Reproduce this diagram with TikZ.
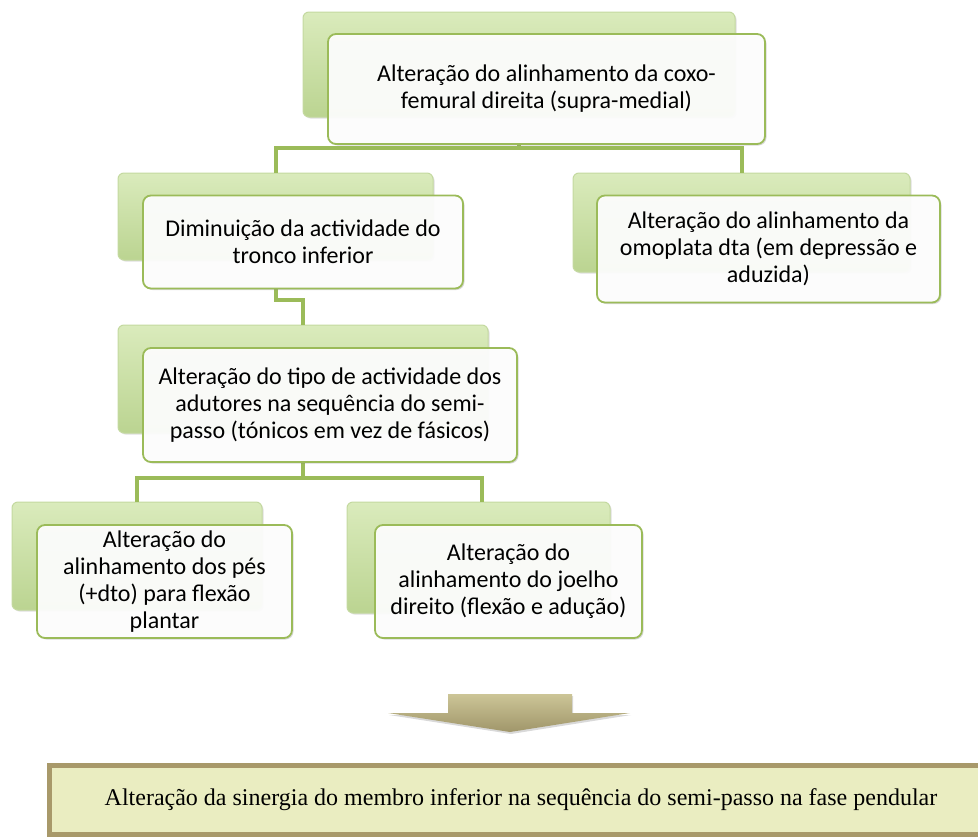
\documentclass[tikz,border=0pt]{standalone}
\usepackage{fontspec}
\setmainfont{Carlito}
\newfontfamily\timesfont{Liberation Serif}
\usetikzlibrary{shadows}

\definecolor{linkgreen}{HTML}{9BBB59}
\definecolor{tabtop}{HTML}{DAEBBC}
\definecolor{tabbottom}{HTML}{BBD491}
\definecolor{tabedge}{HTML}{C4D9A0}
\definecolor{resultfill}{HTML}{EAEDC1}
\definecolor{resultedge}{HTML}{A8996A}
\definecolor{arrowtop}{HTML}{CCC597}
\definecolor{arrowbottom}{HTML}{A0966A}

\tikzset{
  tab/.style={rectangle, rounded corners=6pt, inner sep=0pt, outer sep=0pt,
    top color=tabtop, bottom color=tabbottom, draw=tabedge, line width=1pt,
    drop shadow={shadow xshift=1.5pt, shadow yshift=-1.5pt, opacity=0.25}},
  box/.style={rectangle, rounded corners=8pt, inner sep=0pt, outer sep=0pt,
    fill=white, fill opacity=0.93, text opacity=1, draw=linkgreen, line width=1.8pt,
    align=center, font=\fontsize{24}{27}\selectfont,
    drop shadow={shadow xshift=1.5pt, shadow yshift=-1.5pt, opacity=0.3}},
  link/.style={draw=linkgreen, line width=4pt},
}

\begin{document}
\begin{tikzpicture}[x=1pt, y=-1pt]
  \useasboundingbox (0,0) rectangle (978,838);

  % tabs behind the boxes
  \node[tab, minimum width=432, minimum height=105] (toptab) at (519,64.5) {};
  \node[tab, minimum width=315, minimum height=87] (lefttab) at (275.5,216.5) {};
  \node[tab, minimum width=337, minimum height=99] (righttab) at (741.5,222.5) {};
  \node[tab, minimum width=370, minimum height=108] (midtab) at (303,379) {};
  \node[tab, minimum width=250, minimum height=108] (foottab) at (137,556) {};
  \node[tab, minimum width=263, minimum height=111] (kneetab) at (478.5,557.5) {};

  % connectors
  \draw[link] (toptab |- 0,143) -- ++(0,5) -| (lefttab.north);
  \draw[link] (toptab |- 0,143) -- ++(0,5) -| (righttab.north);
  \draw[link] (lefttab |- 0,288) -- ++(0,12) -| (midtab.north);
  \draw[link] (midtab |- 0,462) -- ++(0,16) -| (foottab.north);
  \draw[link] (midtab |- 0,462) -- ++(0,16) -| (482,502);

  % boxes
  \node[box, minimum width=437, minimum height=110] (topbox) at (546.5,89)
    {Alteração do alinhamento da coxo-\\femural direita (supra-medial)};
  \node[box, minimum width=320, minimum height=93] (leftbox) at (303,242)
    {Diminuição da actividade do\\tronco inferior};
  \node[box, minimum width=343, minimum height=107] (rightbox) at (768.5,249)
    {Alteração do alinhamento da\\omoplata dta (em depressão e\\aduzida)};
  \node[box, minimum width=374, minimum height=114] (midbox) at (330,405)
    {Alteração do tipo de actividade dos\\adutores na sequência do semi-\\passo (tónicos em vez de fásicos)};
  \node[box, minimum width=255, minimum height=113] (footbox) at (164.5,581.5)
    {Alteração do\\alinhamento dos pés\\(+dto) para flexão\\plantar};
  \node[box, minimum width=267, minimum height=113] (kneebox) at (508.5,581.5)
    {Alteração do\\alinhamento do joelho\\direito (flexão e adução)};

  % arrow
  \shade[top color=arrowtop, bottom color=arrowbottom,
    drop shadow={shadow xshift=1pt, shadow yshift=-2pt, opacity=0.3}]
    (448,694) -- (572,694) -- (572,713) -- (630,713) -- (510,732)
    -- (388,713) -- (448,713) -- cycle;

  % result
  \node[rectangle, fill=resultfill, draw=resultedge, line width=5pt,
    minimum width=943, minimum height=69, inner sep=0pt,
    font=\timesfont\fontsize{24}{28}\selectfont,
    drop shadow={shadow xshift=-1pt, shadow yshift=1pt, opacity=0.2}]
    (result) at (521,800)
    {Alteração da sinergia do membro inferior na sequência do semi-passo na fase pendular};
\end{tikzpicture}
\end{document}
